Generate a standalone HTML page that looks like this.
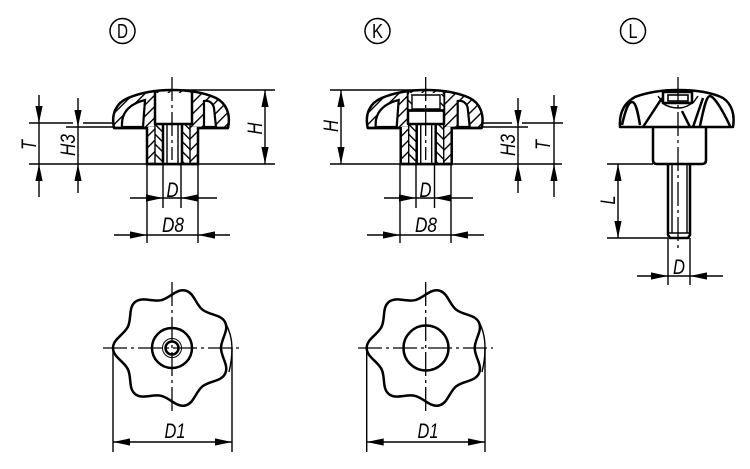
<!DOCTYPE html>
<html><head><meta charset="utf-8"><style>
html,body{margin:0;padding:0;background:#fff}
svg{display:block}
text{font-family:"Liberation Sans",sans-serif;fill:#000}
.t{font-style:italic;font-size:21px}
.c{font-size:20px}
.k{fill:none;stroke:#000;stroke-width:2.5;stroke-linejoin:round}
.n{fill:none;stroke:#000;stroke-width:1.4}
.cl{fill:none;stroke:#000;stroke-width:1.3;stroke-dasharray:24 4 3 4}
</style></head><body>
<svg width="750" height="469" viewBox="0 0 750 469" xmlns="http://www.w3.org/2000/svg">
<defs>
<pattern id="h" width="8" height="8" patternUnits="userSpaceOnUse" patternTransform="rotate(45)"><rect width="8" height="8" fill="#fff"/><rect x="0" width="1.4" height="8" fill="#000"/></pattern>
<pattern id="g" width="7" height="7" patternUnits="userSpaceOnUse" patternTransform="rotate(-45)"><rect width="7" height="7" fill="#fff"/><rect x="0" width="1.4" height="7" fill="#000"/></pattern>
<path id="a" d="M0,0L-17,-3.6L-17,3.6Z" fill="#000"/>
<path id="lobe" fill="#fff" stroke="#000" stroke-width="2.5" d="M113,348C113,339 124,334.8 127.9,326.7C131.8,318.6 128.2,307.5 135.2,301.9C142.2,296.3 152.3,302.2 161.1,300.2C169.9,298.2 176.4,288.5 185.2,290.5C194,292.5 195.5,304.1 202.5,309.7C209.5,315.3 221.3,314.3 225.2,322.4C229.1,330.5 221,339 221,348C221,357 229.1,365.5 225.2,373.6C221.3,381.7 209.5,380.7 202.5,386.3C195.5,391.9 194,403.5 185.2,405.5C176.4,407.5 169.9,397.8 161.1,395.8C152.3,393.8 142.2,399.7 135.2,394.1C128.2,388.5 131.8,377.4 127.9,369.3C124,361.2 113,357 113,348Z"/>
<g id="head">
<path d="M114,128C111,114 116,103 128,98C140,93 155,90 172,90C190,90 205,93 216,98C226,103 231,114 228,128Z" fill="url(#h)" stroke="#000" stroke-width="2.5" stroke-linejoin="round"/>
<path d="M122,127C121,113 129,104 145,100L143,127Z" fill="#fff" stroke="#000" stroke-width="2.2"/>
<path d="M204,101C209,100 213,103 214,108L216,127H204Z" fill="#fff" stroke="#000" stroke-width="2.2"/>
<path d="M147,127V164H198V127" fill="url(#h)" stroke="#000" stroke-width="2.5"/>
<rect x="155" y="124" width="8" height="40" fill="url(#g)" stroke="#000" stroke-width="1.4"/>
<rect x="182" y="124" width="8" height="40" fill="url(#g)" stroke="#000" stroke-width="1.4"/>
<rect x="163" y="124" width="19" height="40" fill="#fff"/>
<path d="M163,124V164M182,124V164" class="k"/>
<path d="M167,124V164M178,124V164" class="n"/>
<path d="M114,128H147M198,128H228M147,164H198" class="k"/>
</g>
</defs>

<!-- circled view labels -->
<circle cx="122.5" cy="31" r="12.5" fill="none" stroke="#000" stroke-width="1.5"/>
<text class="c" x="122.5" y="38" text-anchor="middle" textLength="11" lengthAdjust="spacingAndGlyphs">D</text>
<circle cx="377.5" cy="31" r="12.5" fill="none" stroke="#000" stroke-width="1.5"/>
<text class="c" x="377.5" y="38" text-anchor="middle" textLength="11" lengthAdjust="spacingAndGlyphs">K</text>
<circle cx="633" cy="31" r="12.5" fill="none" stroke="#000" stroke-width="1.5"/>
<text class="c" x="633" y="38" text-anchor="middle" textLength="9" lengthAdjust="spacingAndGlyphs">L</text>

<!-- View D side -->
<use href="#head"/>
<rect x="155" y="93" width="37" height="31" fill="#fff"/>
<path d="M155,92V124H192V92" class="k"/>
<path d="M172,77V160" class="cl"/>
<path class="n" d="M172,90H275M29,164H275M29,123H73M83,123H113M66,127H113M39,95V197M78,98V193M265,90V164M147,164V243M198,164V243M163,164V208M181,164V208M130,198H217M114,235H230"/>
<use href="#a" transform="translate(39,123) rotate(90)"/>
<use href="#a" transform="translate(39,164) rotate(-90)"/>
<use href="#a" transform="translate(78,127) rotate(90)"/>
<use href="#a" transform="translate(78,164) rotate(-90)"/>
<use href="#a" transform="translate(265,90) rotate(-90)"/>
<use href="#a" transform="translate(265,164) rotate(90)"/>
<use href="#a" transform="translate(163,198)"/>
<use href="#a" transform="translate(181,198) rotate(180)"/>
<use href="#a" transform="translate(147,235)"/>
<use href="#a" transform="translate(198,235) rotate(180)"/>
<text class="t" x="172.5" y="197" text-anchor="middle" textLength="12" lengthAdjust="spacingAndGlyphs">D</text>
<text class="t" x="173" y="232" text-anchor="middle" textLength="22" lengthAdjust="spacingAndGlyphs">D8</text>
<text class="t" transform="translate(36,145) rotate(-90)" text-anchor="middle" textLength="10" lengthAdjust="spacingAndGlyphs">T</text>
<text class="t" transform="translate(75,145) rotate(-90)" text-anchor="middle" textLength="22" lengthAdjust="spacingAndGlyphs">H3</text>
<text class="t" transform="translate(262,128.5) rotate(-90)" text-anchor="middle" textLength="12" lengthAdjust="spacingAndGlyphs">H</text>

<!-- View K side -->
<use href="#head" x="253.7"/>
<rect x="408" y="93" width="36" height="31" fill="#fff"/>
<path d="M408,92V124H444V92" class="k"/>
<rect x="408.6" y="94" width="3.4" height="15" fill="url(#g)"/>
<rect x="440" y="94" width="3.4" height="15" fill="url(#g)"/>
<path d="M412,95H440V109H412Z" class="n"/>
<path d="M408,110.5H444" stroke="#000" stroke-width="2.8" fill="none"/>
<path d="M425.7,77V160" class="cl"/>
<path class="n" d="M330,90H426M330,164H562M481,123H512M522,123H563M481,127H528M341,90V164M518,98V193M554,95V197M400,164V243M451,164V243M416,164V208M434.5,164V208M384,198H473M367,235H484"/>
<use href="#a" transform="translate(341,90) rotate(-90)"/>
<use href="#a" transform="translate(341,164) rotate(90)"/>
<use href="#a" transform="translate(518,127) rotate(90)"/>
<use href="#a" transform="translate(518,164) rotate(-90)"/>
<use href="#a" transform="translate(554,123) rotate(90)"/>
<use href="#a" transform="translate(554,164) rotate(-90)"/>
<use href="#a" transform="translate(416,198)"/>
<use href="#a" transform="translate(434.5,198) rotate(180)"/>
<use href="#a" transform="translate(400,235)"/>
<use href="#a" transform="translate(451,235) rotate(180)"/>
<text class="t" x="425.5" y="197" text-anchor="middle" textLength="12" lengthAdjust="spacingAndGlyphs">D</text>
<text class="t" x="426" y="232" text-anchor="middle" textLength="22" lengthAdjust="spacingAndGlyphs">D8</text>
<text class="t" transform="translate(338,126) rotate(-90)" text-anchor="middle" textLength="12" lengthAdjust="spacingAndGlyphs">H</text>
<text class="t" transform="translate(515,145) rotate(-90)" text-anchor="middle" textLength="22" lengthAdjust="spacingAndGlyphs">H3</text>
<text class="t" transform="translate(550,145) rotate(-90)" text-anchor="middle" textLength="10" lengthAdjust="spacingAndGlyphs">T</text>

<!-- View L -->
<path class="k" d="M620,127C619,113 624,103 635,97C648,92 662,90 678,90C695,90 711,92 723,98C732,104 735,115 733,127Z"/>
<path class="k" d="M622,125C625,112 628,102 632,102C636,102 638,113 640,125M700,126C703,112 706,96 710,96C715,97 724,113 730,126"/>
<path class="k" d="M643,127L662,98M690,127L682,111M693,127L703,98"/>
<path class="k" d="M663,92H692V103H663Z"/>
<rect x="668" y="95" width="20" height="6" fill="#fff" stroke="#000" stroke-width="1.6"/>
<path class="n" d="M662,103C668,107 674,108 678,108C683,108 688,107 693,102M658,96L663,103M698,96L693,103"/>
<path class="k" d="M653,127V160Q653,164 657,164H702Q706,164 706,160V127"/>
<path class="k" d="M668,164V235L670,238H688L690,235V164"/>
<path class="n" d="M672,164V233M687,164V233M668,233H690"/>
<path d="M678,77V250" class="cl"/>
<path class="n" d="M607,164H653M607,238H668M618,164V238M668,238V285M690,238V285M637,276H723"/>
<use href="#a" transform="translate(618,164) rotate(-90)"/>
<use href="#a" transform="translate(618,238) rotate(90)"/>
<use href="#a" transform="translate(668,276)"/>
<use href="#a" transform="translate(690,276) rotate(180)"/>
<text class="t" x="679" y="274" text-anchor="middle" textLength="12" lengthAdjust="spacingAndGlyphs">D</text>
<text class="t" transform="translate(615,200) rotate(-90)" text-anchor="middle" textLength="9" lengthAdjust="spacingAndGlyphs">L</text>

<!-- View D top -->
<use href="#lobe"/>
<path class="n" d="M225,322C230,331 232,340 232,348C232,357 231,364 229,372"/>
<circle cx="172" cy="348" r="20" fill="none" stroke="#000" stroke-width="2.5"/>
<circle cx="172" cy="348" r="9.5" fill="none" stroke="#000" stroke-width="1"/>
<circle cx="172" cy="348" r="6.5" fill="none" stroke="#000" stroke-width="2.5"/>
<path class="cl" d="M103,348H241M172,282V413"/>
<path class="n" d="M113,348V452M232,348V452M113,442H232"/>
<use href="#a" transform="translate(113,442) rotate(180)"/>
<use href="#a" transform="translate(232,442)"/>
<text class="t" x="175" y="438" text-anchor="middle" textLength="21" lengthAdjust="spacingAndGlyphs">D1</text>

<!-- View K top -->
<use href="#lobe" x="253.7"/>
<path class="n" d="M479,322C484,331 485,340 485,348C485,357 484,364 482,372"/>
<circle cx="426" cy="348" r="22.5" fill="none" stroke="#000" stroke-width="2.5"/>
<path class="cl" d="M358,348H493M425.7,282V413"/>
<path class="n" d="M366.7,348V452M485,348V452M366.7,442H485"/>
<use href="#a" transform="translate(366.7,442) rotate(180)"/>
<use href="#a" transform="translate(485,442)"/>
<text class="t" x="428" y="438" text-anchor="middle" textLength="21" lengthAdjust="spacingAndGlyphs">D1</text>
</svg>
</body></html>
